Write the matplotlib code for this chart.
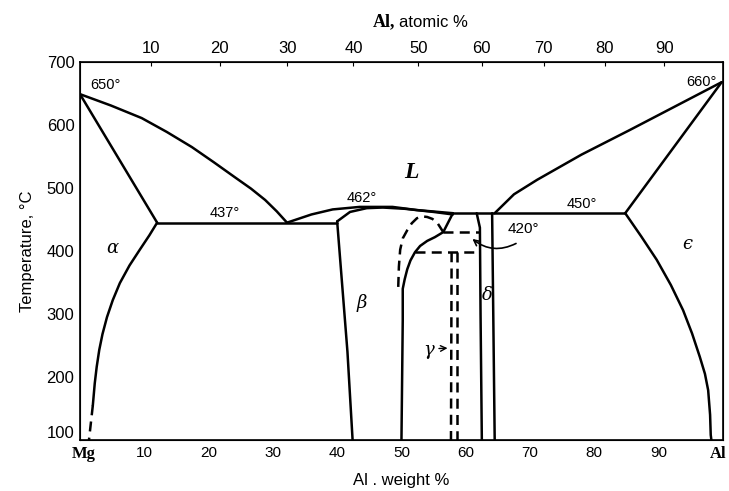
import numpy as np
import matplotlib.pyplot as plt
import matplotlib.transforms as mtransforms

plt.rcParams['font.family'] = ['Liberation Sans', 'DejaVu Sans']

M_MG, M_AL = 24.305, 26.982

# phase boundaries: (wt% Al, temperature C)
liq_left_x = [0, 4.8, 9.6, 13.5, 17.4, 20.8, 24.1, 26.6, 28.8, 30.6, 32.2]
liq_left_t = [649, 631, 611, 589, 565, 541, 517, 499, 481, 463, 445]
sol_alpha_x = [0, 12.0]
sol_alpha_t = [649, 445]
solv_alpha_x = [12.0, 10.8, 9.3, 7.7, 6.2, 5.1, 4.2, 3.5, 3.0, 2.6, 2.3, 2.0]
solv_alpha_t = [445, 425, 402, 377, 349, 322, 295, 268, 243, 216, 190, 155]
solv_alpha_dash_x = [2.0, 1.4]
solv_alpha_dash_t = [155, 100]
eut_left_x = [12.0, 40.0]
eut_left_t = [445, 445]

liq_mid_x = [32.2, 36.0, 39.3, 43.5, 48.6, 52.4, 58.0]
liq_mid_t = [445, 458, 466, 470, 470, 465, 460]
sol_beta_x = [40.0, 42.0, 44.6, 47.1, 50.5, 55.0, 58.0]
sol_beta_t = [447, 462, 468, 469, 467, 462, 458]
beta_left_x = [40.0, 41.6, 42.4]
beta_left_t = [447, 240, 100]
beta_right_x = [58.0, 56.5, 55.2, 54.0, 52.9, 52.1, 51.4, 50.9, 50.5, 50.2, 50.2, 50.0]
beta_right_t = [460, 430, 422, 416, 408, 398, 385, 371, 355, 340, 290, 100]

dash_curve_x = [49.5, 49.6, 49.8, 50.2, 50.9, 51.6, 52.4, 53.2, 54.0, 54.8, 55.5, 56.5]
dash_curve_t = [343, 375, 402, 420, 433, 444, 452, 455, 454, 451, 446, 430]
dash_420_x = [56.5, 62.2]
dash_420_t = [430, 430]
dash_398_x = [52.1, 62.2]
dash_398_t = [398, 398]
gamma_l_x = [57.8, 57.7]
gamma_l_t = [398, 100]
gamma_r_x = [58.6, 58.6]
gamma_r_t = [398, 100]

delta_l_x = [61.7, 62.2, 62.3, 62.5]
delta_l_t = [460, 437, 300, 100]
delta_r_x = [64.1, 64.5]
delta_r_t = [460, 100]
eut_right_x = [58.0, 84.8]
eut_right_t = [460, 460]

liq_right_x = [64.5, 67.5, 71.1, 78.0, 85.5, 99.8]
liq_right_t = [460, 490, 513, 553, 592, 668]
sol_eps_x = [99.8, 84.8]
sol_eps_t = [668, 460]
solv_eps_x = [84.8, 87.3, 89.7, 91.9, 93.8, 95.2, 96.4, 97.2, 97.7, 98.0, 98.1, 98.2]
solv_eps_t = [460, 423, 386, 346, 306, 269, 232, 205, 179, 140, 108, 100]

temp_ticks = [100, 200, 300, 400, 500, 600, 700]
wt_ticks = [0, 10, 20, 30, 40, 50, 60, 70, 80, 90, 100]
wt_labels = ['Mg', '10', '20', '30', '40', '50', '60', '70', '80', '90', 'Al']
at_ticks = [10, 20, 30, 40, 50, 60, 70, 80, 90]


def at_to_wt(at):
    at = np.asarray(at, dtype=float)
    return 100 * at * M_AL / (at * M_AL + (100 - at) * M_MG)


fig = plt.figure(figsize=(7.29, 4.91), dpi=100)
ax = fig.add_axes([0.1097, 0.1039, 0.882, 0.7698])
ax.set_xlim(0, 100)
ax.set_ylim(100, 700)

lw = 1.8
k = 'black'
solid = [(liq_left_x, liq_left_t), (sol_alpha_x, sol_alpha_t),
         (solv_alpha_x, solv_alpha_t), (eut_left_x, eut_left_t),
         (liq_mid_x, liq_mid_t), (sol_beta_x, sol_beta_t),
         (beta_left_x, beta_left_t), (beta_right_x, beta_right_t),
         (delta_l_x, delta_l_t), (delta_r_x, delta_r_t),
         (eut_right_x, eut_right_t), (liq_right_x, liq_right_t),
         (sol_eps_x, sol_eps_t), (solv_eps_x, solv_eps_t)]
for xs, ts in solid:
    ax.plot(xs, ts, color=k, lw=lw, solid_capstyle='round', solid_joinstyle='round')

dashed = [(solv_alpha_dash_x, solv_alpha_dash_t), (dash_curve_x, dash_curve_t),
          (dash_420_x, dash_420_t), (dash_398_x, dash_398_t),
          (gamma_l_x, gamma_l_t), (gamma_r_x, gamma_r_t)]
for xs, ts in dashed:
    ax.plot(xs, ts, color=k, lw=lw, ls=(0, (4, 2.5)))

# temperature labels
ax.text(1.6, 663, '650°', fontsize=10.5, va='center', ha='left')
ax.text(99.0, 668, '660°', fontsize=10.5, va='center', ha='right')
ax.text(22.5, 460, '437°', fontsize=10.5, va='center', ha='center')
ax.text(43.9, 484, '462°', fontsize=10.5, va='center', ha='center')
ax.text(78.0, 475, '450°', fontsize=10.5, va='center', ha='center')
ax.text(69.0, 435, '420°', fontsize=11, va='center', ha='center')
ax.annotate('', xy=(60.7, 422), xytext=(68.2, 414),
            arrowprops=dict(arrowstyle='->', color=k, lw=1.2,
                            connectionstyle='arc3,rad=-0.35'))

# phase labels
greek = dict(family='DejaVu Serif', style='italic', fontsize=13,
             va='center', ha='center')
ax.text(51.6, 524, 'L', family='Liberation Serif', style='italic',
        fontweight='bold', fontsize=17, va='center', ha='center')
ax.text(5.0, 405, 'α', **greek)
ax.text(43.9, 318, 'β', **greek)
ax.text(63.3, 330, 'δ', **greek)
ax.text(94.4, 411, 'ϵ', **greek)
ax.text(54.3, 243, 'γ', **greek)
ax.annotate('', xy=(57.6, 246), xytext=(55.4, 245),
            arrowprops=dict(arrowstyle='->', color=k, lw=1.0))

# axes cosmetics
for s in ax.spines.values():
    s.set_linewidth(1.2)
ax.set_yticks(temp_ticks)
ax.set_yticklabels([str(t) for t in temp_ticks], fontsize=12)
ax.set_xticks(wt_ticks)
ax.set_xticklabels(wt_labels, fontsize=11)
ax.tick_params(axis='both', length=0, pad=4)

xlabs = ax.get_xticklabels()
for lab in (xlabs[0], xlabs[-1]):
    lab.set_family('Liberation Serif')
    lab.set_fontweight('bold')
    lab.set_fontsize(12)
# the end labels sit a little off the tick
xlabs[-1].set_horizontalalignment('right')
xlabs[-1].set_transform(xlabs[-1].get_transform() +
                        mtransforms.ScaledTranslation(4 / 100, 0, fig.dpi_scale_trans))
xlabs[0].set_transform(xlabs[0].get_transform() +
                       mtransforms.ScaledTranslation(4 / 100, 0, fig.dpi_scale_trans))
ylabs = ax.get_yticklabels()
ylabs[0].set_transform(ylabs[0].get_transform() +
                       mtransforms.ScaledTranslation(0, 8 / 100, fig.dpi_scale_trans))

ax.set_ylabel('Temperature, °C', fontsize=12, labelpad=8)
ax.set_xlabel('Al . weight %', fontsize=12, labelpad=8)

top = ax.twiny()
top.set_xlim(0, 100)
top.set_xticks(at_to_wt(at_ticks))
top.set_xticklabels([str(a) for a in at_ticks], fontsize=12)
top.tick_params(axis='x', direction='in', length=3, pad=4)

fig.text(0.5425, 0.955, 'Al,', family='Liberation Serif', fontweight='bold',
         fontsize=13, ha='right', va='center')
fig.text(0.547, 0.955, 'atomic %', fontsize=12, ha='left', va='center')

fig.savefig('out.png', dpi=100)
